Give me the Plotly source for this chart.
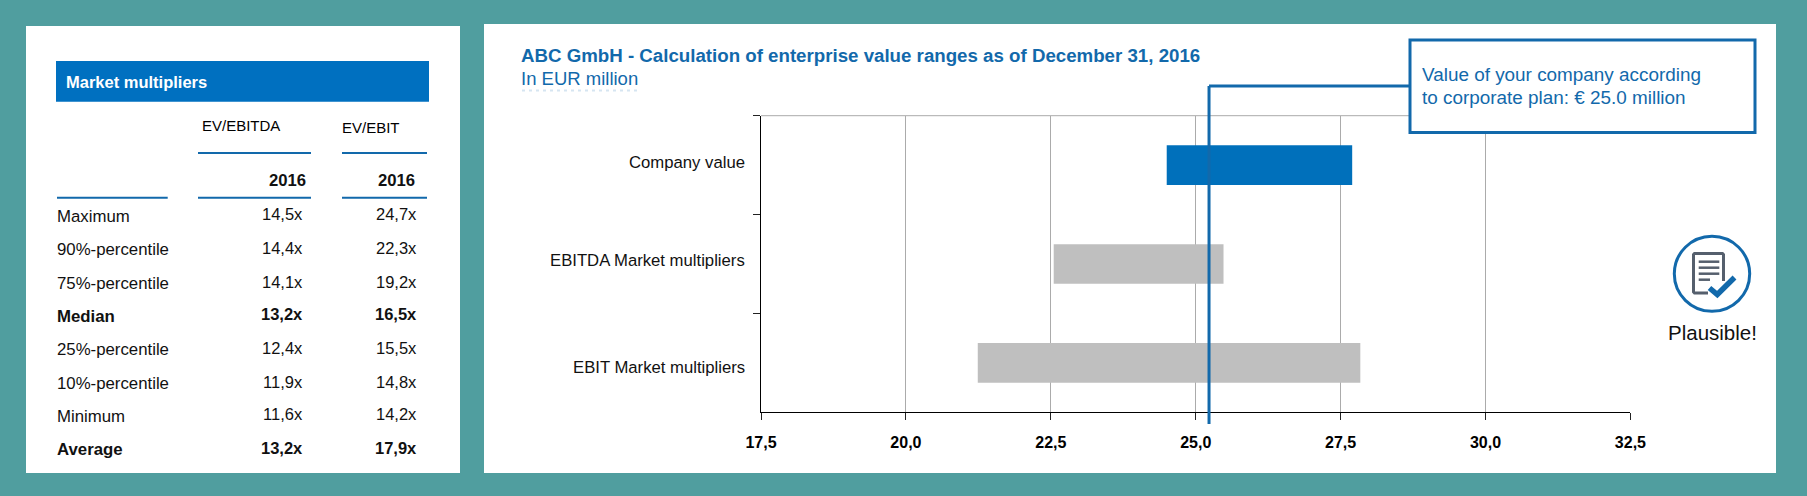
import plotly.graph_objects as go

W, H = 1807, 496

# ---- data ----
ROW_LABELS = ["Maximum", "90%-percentile", "75%-percentile", "Median",
              "25%-percentile", "10%-percentile", "Minimum", "Average"]
EV_EBITDA = ["14,5x", "14,4x", "14,1x", "13,2x", "12,4x", "11,9x", "11,6x", "13,2x"]
EV_EBIT = ["24,7x", "22,3x", "19,2x", "16,5x", "15,5x", "14,8x", "14,2x", "17,9x"]
BOLD_ROWS = ["Median", "Average"]

CATEGORIES = ["Company value", "EBITDA Market multipliers", "EBIT Market multipliers"]
RANGE_LOW = [24.50, 22.55, 21.24]
RANGE_HIGH = [27.70, 25.48, 27.84]
BAR_COLORS = ["#0070BB", "#BFBFBF", "#BFBFBF"]
X_TICKS = [17.5, 20.0, 22.5, 25.0, 27.5, 30.0, 32.5]
PLAN_VALUE = 25.23
CALLOUT_EDGE = 28.68

TITLE = "ABC GmbH - Calculation of enterprise value ranges as of December 31, 2016"
SUBTITLE = "In EUR million"
CALLOUT = ["Value of your company according", "to corporate plan: € 25.0 million"]

# ---- styles ----
TEAL = "#509E9F"
BLUE = "#1269AB"
FONT = "Liberation Sans, Arial, sans-serif"
GRID = "#ABABAB"
DOC = "#555F6D"

px = lambda x: x / W
py = lambda y: 1 - y / H

shapes, notes = [], []


def rect(x0, y0, x1, y1, fill, layer="below", line=None, lw=0):
    shapes.append(dict(type="rect", xref="paper", yref="paper", x0=px(x0), x1=px(x1),
                       y0=py(y0), y1=py(y1), fillcolor=fill, layer=layer,
                       line=dict(color=line or fill, width=lw)))


def hline(x0, x1, y, color=BLUE, lw=2, layer="above", dash="solid"):
    shapes.append(dict(type="line", xref="paper", yref="paper", x0=px(x0), x1=px(x1),
                       y0=py(y), y1=py(y), layer=layer, line=dict(color=color, width=lw, dash=dash)))


def text(x, y, s, size=16.5, color="#111111", bold=False, anchor="left"):
    notes.append(dict(xref="paper", yref="paper", x=px(x), y=py(y), text=f"<b>{s}</b>" if bold else s,
                      showarrow=False, xanchor=anchor, yanchor="middle", borderpad=0,
                      font=dict(family=FONT, size=size, color=color)))


# panels
rect(26, 26, 460, 473, "white")
rect(484, 24, 1776, 473, "white")

# left table
rect(56, 61, 429, 101.7, "#0070C0")
text(65.3, 82, "Market multipliers", size=16.5, color="white", bold=True)
text(201.3, 125.7, "EV/EBITDA", size=15, color="#000000")
text(340.8, 127.7, "EV/EBIT", size=15, color="#000000")
hline(198, 311, 153)
hline(342, 427, 153)
hline(57, 167.7, 197.7)
hline(198, 311, 197.7)
hline(342, 427, 197.7)
text(306.5, 180.3, "2016", size=16.7, bold=True, anchor="right")
text(416, 180.3, "2016", size=16.7, bold=True, anchor="right")
LABEL_Y = [216, 249.3, 283.3, 316, 349.3, 383.3, 416, 449.3]
for lab, a, b, y in zip(ROW_LABELS, EV_EBITDA, EV_EBIT, LABEL_Y):
    bold = lab in BOLD_ROWS
    text(55.5, y, lab, size=16.8, bold=bold)
    text(304, y - 1.7, a, bold=bold, anchor="right")
    text(418, y - 1.7, b, bold=bold, anchor="right")

# titles
text(520.4, 55.5, TITLE, size=18.7, color=BLUE, bold=True)
text(520.4, 78.7, SUBTITLE, size=18.5, color=BLUE)
# faint remnant below the subtitle
hline(522, 640, 90.5, color="#D6E5F1", lw=2, dash="3px,4px")

# top border of the plot
shapes.append(dict(type="line", xref="x", yref="paper", x0=X_TICKS[0], x1=X_TICKS[-1],
                   y0=py(115.7), y1=py(115.7), layer="below", line=dict(color=GRID, width=1)))

# category labels, placed as in the reference
for cat, y in zip(CATEGORIES, [162.3, 260, 367]):
    text(745.5, y, cat, size=16.7, anchor="right")

# plan marker and callout
shapes.append(dict(type="line", xref="x", yref="paper", x0=PLAN_VALUE, x1=PLAN_VALUE,
                   y0=py(86), y1=py(424), layer="above", line=dict(color=BLUE, width=3)))
shapes.append(dict(type="line", xref="x", yref="paper", x0=PLAN_VALUE, x1=CALLOUT_EDGE,
                   y0=py(86), y1=py(86), layer="above", line=dict(color=BLUE, width=3)))
rect(1410, 40, 1755, 132.5, "white", layer="above", line=BLUE, lw=3)
text(1421, 74.7, CALLOUT[0], size=18.9, color=BLUE)
text(1421, 97.7, CALLOUT[1], size=18.9, color=BLUE)

# icon
shapes.append(dict(type="circle", xref="paper", yref="paper", x0=px(1674.3), x1=px(1749.7),
                   y0=py(236.3), y1=py(311.3), layer="above", line=dict(color=BLUE, width=3)))


def path(points, color, lw):
    d = "M " + " L ".join(f"{px(x):.5f},{py(y):.5f}" for x, y in points)
    shapes.append(dict(type="path", xref="paper", yref="paper", path=d, layer="above",
                       line=dict(color=color, width=lw)))


path([(1723.5, 281), (1723.5, 254.5), (1722.5, 253.5), (1694.5, 253.5), (1693.5, 254.5),
      (1693.5, 292), (1694.5, 293), (1708, 293)], DOC, 3)
path([(1698.7, 261.7), (1719.3, 261.7)], DOC, 2.5)
path([(1698.7, 267.7), (1719.3, 267.7)], DOC, 2.5)
path([(1698.7, 273.7), (1719.3, 273.7)], DOC, 2.5)
path([(1698.7, 279.7), (1710, 279.7)], DOC, 2.5)
path([(1709.5, 288), (1717.3, 294.5), (1734.5, 277.5)], BLUE, 5.5)
text(1712, 332, "Plausible!", size=20.5, color="#111111", anchor="center")

fig = go.Figure()
fig.add_trace(go.Bar(
    y=CATEGORIES,
    x=[h - l for l, h in zip(RANGE_LOW, RANGE_HIGH)],
    base=RANGE_LOW,
    orientation="h",
    width=0.4,
    marker=dict(color=BAR_COLORS, line=dict(width=0)),
    hoverinfo="skip",
    showlegend=False,
))

fig.update_layout(
    width=W, height=H,
    margin=dict(l=0, r=0, t=0, b=0, autoexpand=False),
    paper_bgcolor=TEAL,
    plot_bgcolor="rgba(0,0,0,0)",
    separators=",.",
    showlegend=False,
    shapes=shapes,
    annotations=notes,
    font=dict(family=FONT, color="#111111"),
    xaxis=dict(domain=[px(761), px(1630.4)], range=[X_TICKS[0], X_TICKS[-1]],
               tickmode="array", tickvals=X_TICKS, tickformat=".1f",
               ticks="outside", ticklen=7, tickcolor="#222222", tickwidth=1,
               showline=True, linecolor="#000000", linewidth=1,
               showgrid=True, gridcolor=GRID, gridwidth=1, zeroline=False,
               tickfont=dict(family=FONT, size=16, color="#000000", weight="bold"),
               ticklabelstandoff=8),
    yaxis=dict(domain=[py(412.3), py(115.7)], type="category",
               categoryorder="array", categoryarray=CATEGORIES, range=[2.5, -0.5],
               tickson="boundaries", ticks="outside", ticklen=7, tickcolor="#222222", tickwidth=1,
               showticklabels=False,
               showline=True, linecolor="#000000", linewidth=1, showgrid=False, zeroline=False),
)

fig.write_html("out.html", config=dict(displayModeBar=False),
               post_script="document.body.style.margin='0';document.body.style.overflow='hidden';"
                           "document.body.style.background='" + TEAL + "';")
